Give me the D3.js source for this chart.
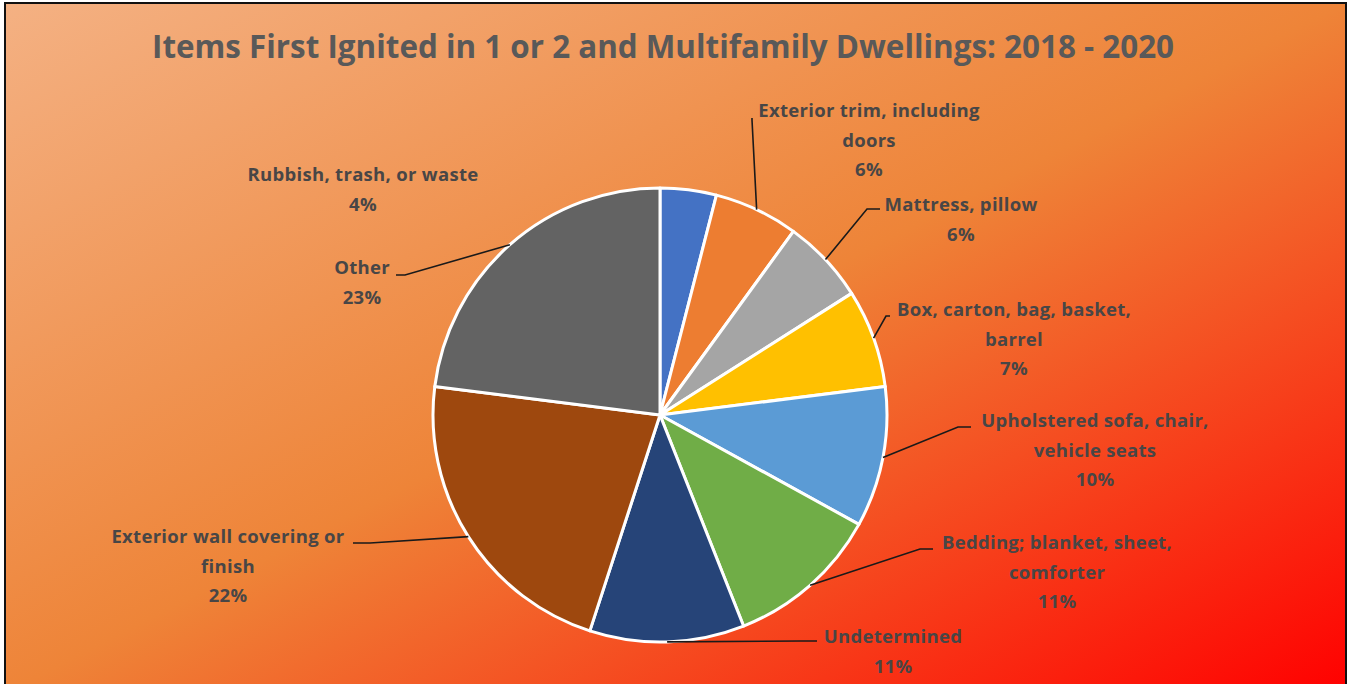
<!DOCTYPE html>
<html>
<head>
<meta charset="utf-8">
<script src="https://cdn.jsdelivr.net/npm/d3@7"></script>
<style>
  body { margin: 0; background: #fff; }
  svg { display: block; }
  .lbl { font-family: "Open Sans", Lato, sans-serif; font-weight: bold; fill: #484646; }
</style>
</head>
<body>
<div id="chart"></div>
<script>
// data
var categories = [
  "Rubbish, trash, or waste",
  "Exterior trim, including doors",
  "Mattress, pillow",
  "Box, carton, bag, basket, barrel",
  "Upholstered sofa, chair, vehicle seats",
  "Bedding; blanket, sheet, comforter",
  "Undetermined",
  "Exterior wall covering or finish",
  "Other"
];
var values = [4, 6, 6, 7, 10, 11, 11, 22, 23];
var colors = ["#4472C4", "#ED7D31", "#A5A5A5", "#FFC000", "#5B9BD5", "#70AD47", "#264478", "#9E480E", "#636363"];

// label text is wrapped like the original
var labelLines = [
  ["Rubbish, trash, or waste"],
  ["Exterior trim, including", "doors"],
  ["Mattress, pillow"],
  ["Box, carton, bag, basket,", "barrel"],
  ["Upholstered sofa, chair,", "vehicle seats"],
  ["Bedding; blanket, sheet,", "comforter"],
  ["Undetermined"],
  ["Exterior wall covering or", "finish"],
  ["Other"]
];

// label layout: text centre x, first line y, leader elbow and end (null = no leader)
var labelLayout = [
  {x: 363, y: 176, elbow: null, end: null},
  {x: 869, y: 112, elbow: [752, 120], end: [752, 118]},
  {x: 961, y: 206, elbow: [867, 209], end: [880, 209]},
  {x: 1014, y: 311, elbow: [886, 316], end: [890, 316]},
  {x: 1095, y: 422, elbow: [958, 427], end: [971, 427]},
  {x: 1057, y: 544, elbow: [920, 549], end: [933, 549]},
  {x: 893, y: 638, elbow: [800, 641], end: [817, 641]},
  {x: 228, y: 538, elbow: [370, 543], end: [353, 543]},
  {x: 362, y: 269, elbow: [405, 275], end: [396, 275]}
];

var W = 1351, H = 684;
var cx = 660, cy = 415, radius = 227;
var lineGap = 29.5;

var svg = d3.select("#chart").append("svg")
    .attr("width", W)
    .attr("height", H);

var defs = svg.append("defs");
var grad = defs.append("linearGradient")
    .attr("id", "bg")
    .attr("x1", 0).attr("y1", 0)
    .attr("x2", 1).attr("y2", 1);
grad.append("stop").attr("offset", "0%").attr("stop-color", "#F4B183");
grad.append("stop").attr("offset", "50%").attr("stop-color", "#EE8438");
grad.append("stop").attr("offset", "100%").attr("stop-color", "#FF0000");

svg.append("rect")
    .attr("x", 5).attr("y", 3)
    .attr("width", 1341).attr("height", 690)
    .attr("fill", "url(#bg)")
    .attr("stroke", "#111")
    .attr("stroke-width", 2);

// title
svg.append("text")
    .attr("class", "lbl")
    .attr("x", 663)
    .attr("y", 58)
    .attr("text-anchor", "middle")
    .attr("font-size", 32)
    .attr("textLength", 1022)
    .attr("lengthAdjust", "spacingAndGlyphs")
    .style("fill", "#595959")
    .text("Items First Ignited in 1 or 2 and Multifamily Dwellings: 2018 - 2020");

var pie = d3.pie().sort(null).value(d => d);
var arcs = pie(values);

var arc = d3.arc().innerRadius(0).outerRadius(radius);
var edge = d3.arc().innerRadius(radius).outerRadius(radius);

var g = svg.append("g")
    .attr("transform", "translate(" + cx + "," + cy + ")");

g.selectAll("path.slice")
    .data(arcs)
  .enter().append("path")
    .attr("class", "slice")
    .attr("d", arc)
    .attr("fill", (d, i) => colors[i])
    .attr("stroke", "#fff")
    .attr("stroke-width", 3)
    .attr("stroke-linejoin", "round");

// leader lines, from slice edge midpoint to the label
arcs.forEach(function(d, i) {
  var lay = labelLayout[i];
  if (!lay.elbow) return;
  var p = edge.centroid(d);
  var pts = [[p[0] + cx, p[1] + cy], lay.elbow, lay.end];
  svg.append("path")
    .attr("d", d3.line()(pts))
    .attr("fill", "none")
    .attr("stroke", "#1a1a1a")
    .attr("stroke-width", 1.6);
});

// labels
arcs.forEach(function(d, i) {
  var lay = labelLayout[i];
  var lines = labelLines[i].concat([values[i] + "%"]);
  var t = svg.append("text")
    .attr("class", "lbl")
    .attr("text-anchor", "middle")
    .attr("font-size", 18.5)
    .attr("letter-spacing", 0.3)
    .attr("dominant-baseline", "middle");
  lines.forEach(function(s, k) {
    t.append("tspan")
      .attr("x", lay.x)
      .attr("y", lay.y + k * lineGap)
      .text(s);
  });
});
</script>
</body>
</html>
